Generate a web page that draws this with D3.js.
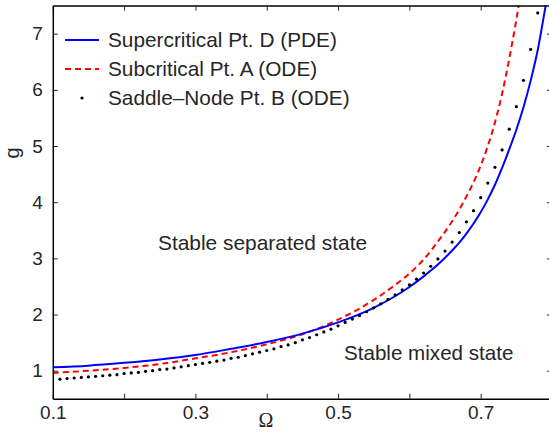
<!DOCTYPE html>
<html>
<head>
<meta charset="utf-8">
<script src="https://cdn.jsdelivr.net/npm/d3@7"></script>
<style>
    html, body { margin: 0; padding: 0; background: #fff; }
    svg { display: block; }
    text { font-family: 'Liberation Sans', Arial, Helvetica, sans-serif; fill: #262626; }
</style>
</head>
<body>
<svg id="chart" width="549" height="434"></svg>
<script>
// Supercritical Pt. D (PDE)
const PDE_OMEGA = [0.10, 0.15, 0.20, 0.25, 0.30, 0.35, 0.40, 0.45, 0.50, 0.55, 0.60, 0.62, 0.64, 0.66,
    0.67, 0.68, 0.69, 0.70, 0.71, 0.72, 0.73, 0.74, 0.75, 0.76, 0.77, 0.78, 0.79, 0.795]
const PDE_G = [1.06, 1.09, 1.14, 1.20, 1.28, 1.39, 1.51, 1.66, 1.86, 2.12, 2.49, 2.68, 2.89, 3.14,
    3.28, 3.44, 3.62, 3.82, 4.05, 4.31, 4.61, 4.94, 5.29, 5.69, 6.16, 6.71, 7.42, 7.80]

// Subcritical Pt. A (ODE)
const SUB_OMEGA = [0.10, 0.15, 0.20, 0.25, 0.30, 0.35, 0.40, 0.45, 0.50, 0.55, 0.575, 0.60, 0.62, 0.64,
    0.66, 0.68, 0.70, 0.71, 0.72, 0.73, 0.74, 0.75, 0.76]
const SUB_G = [0.96, 1.00, 1.05, 1.12, 1.22, 1.33, 1.47, 1.65, 1.91, 2.26, 2.48, 2.73, 2.98, 3.30,
    3.66, 4.10, 4.65, 5.00, 5.42, 5.93, 6.55, 7.25, 8.00]

// Saddle-Node Pt. B (ODE), one marker per point
const SN_OMEGA = [0.11, 0.12, 0.13, 0.14, 0.15, 0.16, 0.17, 0.18, 0.19, 0.20,
    0.21, 0.22, 0.23, 0.24, 0.25, 0.26, 0.27, 0.28, 0.29, 0.30,
    0.31, 0.32, 0.33, 0.34, 0.35, 0.36, 0.37, 0.38, 0.39, 0.40,
    0.41, 0.42, 0.43, 0.44, 0.45, 0.46, 0.47, 0.48, 0.49, 0.50,
    0.51, 0.52, 0.53, 0.54, 0.55, 0.56, 0.57, 0.58, 0.59, 0.60,
    0.61, 0.62, 0.63, 0.64, 0.65, 0.66, 0.67, 0.68, 0.69, 0.70,
    0.71, 0.72, 0.73, 0.74, 0.75, 0.76, 0.77, 0.78]
const SN_G = [0.85, 0.86, 0.87, 0.88, 0.89, 0.90, 0.91, 0.92, 0.93, 0.95,
    0.96, 0.97, 0.99, 1.00, 1.02, 1.03, 1.05, 1.07, 1.09, 1.11,
    1.13, 1.15, 1.17, 1.19, 1.22, 1.24, 1.27, 1.30, 1.33, 1.36,
    1.39, 1.43, 1.46, 1.50, 1.55, 1.59, 1.64, 1.69, 1.74, 1.80,
    1.86, 1.92, 1.98, 2.05, 2.12, 2.19, 2.27, 2.35, 2.44, 2.53,
    2.63, 2.74, 2.86, 2.99, 3.13, 3.29, 3.46, 3.65, 3.85, 4.08,
    4.34, 4.62, 4.93, 5.30, 5.70, 6.17, 6.72, 7.37]

const X_TICKS = [0.1, 0.2, 0.3, 0.4, 0.5, 0.6, 0.7, 0.8]
const X_LABELED = [0.1, 0.3, 0.5, 0.7]
const Y_TICKS = [1, 2, 3, 4, 5, 6, 7]

const LEGEND = ['Supercritical Pt. D (PDE)', 'Subcritical Pt. A (ODE)', 'Saddle\u2013Node Pt. B (ODE)']

const svg = d3.select('#chart')

const x = d3.scaleLinear().domain([0.1, 0.8]).range([52.8, 552])
const y = d3.scaleLinear().domain([0.5, 7.5]).range([398.8, 5.6])

svg.append('clipPath').attr('id', 'plot-clip')
    .append('rect')
    .attr('x', x(0.1)).attr('y', y(7.5))
    .attr('width', x(0.8) - x(0.1)).attr('height', y(0.5) - y(7.5))

const plot = svg.append('g').attr('clip-path', 'url(#plot-clip)')

const line = d3.line()
    .x((d) => x(d[0]))
    .y((d) => y(d[1]))
    .curve(d3.curveMonotoneX)

plot.append('path')
    .datum(SUB_OMEGA.map((o, i) => [o, SUB_G[i]]))
    .attr('d', line)
    .attr('fill', 'none')
    .attr('stroke', '#ff0000')
    .attr('stroke-width', 2)
    .attr('stroke-dasharray', '6,4')

plot.append('path')
    .datum(PDE_OMEGA.map((o, i) => [o, PDE_G[i]]))
    .attr('d', line)
    .attr('fill', 'none')
    .attr('stroke', '#0000ff')
    .attr('stroke-width', 2)

plot.selectAll('.sn-dot')
    .data(SN_OMEGA.map((o, i) => [o, SN_G[i]]))
    .enter().append('circle')
    .attr('class', 'sn-dot')
    .attr('cx', (d) => x(d[0]))
    .attr('cy', (d) => y(d[1]))
    .attr('r', 1.6)
    .attr('fill', '#000')

// axes, MATLAB style box with inward ticks
const fmt = (d) => X_LABELED.some((v) => Math.abs(v - d) < 1e-9) ? d3.format('.1f')(d) : ''

const axes = [
    svg.append('g').attr('transform', `translate(0,${y(0.5)})`)
        .call(d3.axisBottom(x).tickValues(X_TICKS).tickFormat(fmt).tickSizeInner(-5).tickSizeOuter(0).tickPadding(7)),
    svg.append('g').attr('transform', `translate(0,${y(7.5)})`)
        .call(d3.axisTop(x).tickValues(X_TICKS).tickFormat('').tickSizeInner(-5).tickSizeOuter(0)),
    svg.append('g').attr('transform', `translate(${x(0.1)},0)`)
        .call(d3.axisLeft(y).tickValues(Y_TICKS).tickFormat(d3.format('d')).tickSizeInner(-5).tickSizeOuter(0).tickPadding(10)),
    svg.append('g').attr('transform', `translate(${x(0.8)},0)`)
        .call(d3.axisRight(y).tickValues(Y_TICKS).tickFormat('').tickSizeInner(-5).tickSizeOuter(0))
]

axes.forEach((g) => {
    g.select('.domain').attr('stroke', '#000').attr('stroke-width', 1.5)
    g.selectAll('.tick line').attr('stroke', '#262626').attr('stroke-width', 1)
    g.selectAll('.tick text')
        .attr('fill', '#262626')
        .style('font-family', "'Liberation Sans', Arial, sans-serif")
        .style('font-size', '19px')
})

// axis titles
svg.append('text')
    .attr('x', 266).attr('y', 427)
    .attr('text-anchor', 'middle')
    .style('font-family', "'Liberation Serif', 'Times New Roman', serif")
    .style('font-size', '20px')
    .text('\u03A9')

svg.append('text')
    .attr('transform', 'translate(19,153) rotate(-90)')
    .attr('text-anchor', 'middle')
    .style('font-size', '20px')
    .text('g')

// region labels
svg.append('text')
    .attr('x', 158).attr('y', 250)
    .style('font-size', '20.9px')
    .text('Stable separated state')

svg.append('text')
    .attr('x', 344).attr('y', 360)
    .style('font-size', '20.6px')
    .text('Stable mixed state')

// legend
const legend = svg.append('g')
const rowY = [40, 69, 98]

legend.append('line')
    .attr('x1', 65).attr('x2', 99).attr('y1', rowY[0]).attr('y2', rowY[0])
    .attr('stroke', '#0000ff').attr('stroke-width', 2)
legend.append('line')
    .attr('x1', 65).attr('x2', 99).attr('y1', rowY[1]).attr('y2', rowY[1])
    .attr('stroke', '#ff0000').attr('stroke-width', 2).attr('stroke-dasharray', '6,4')
legend.append('circle')
    .attr('cx', 82).attr('cy', rowY[2]).attr('r', 1.6).attr('fill', '#000')

legend.selectAll('.legend-text')
    .data(LEGEND)
    .enter().append('text')
    .attr('class', 'legend-text')
    .attr('x', 108)
    .attr('y', (d, i) => rowY[i])
    .attr('dy', '0.35em')
    .style('font-size', '20.8px')
    .text((d) => d)
</script>
</body>
</html>
